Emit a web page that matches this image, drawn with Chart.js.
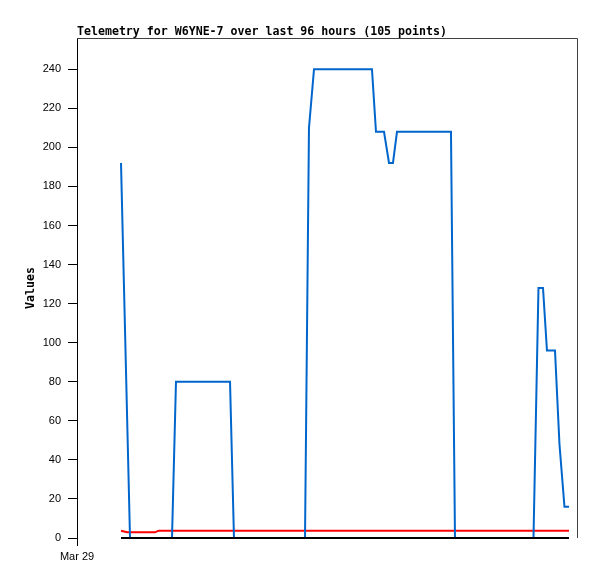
<!DOCTYPE html>
<html lang="en">
<head>
  <meta charset="UTF-8" />
  <title>Telemetry for W6YNE-7</title>
  <script src="https://cdn.jsdelivr.net/npm/chart.js"></script>
  <style>
    body { margin: 0; background: #fff; }
    canvas { display: block; }
  </style>
</head>
<body>
  <canvas id="telemetry" width="597" height="579"></canvas>

  <script>
    // hours since Mar 29 00:00
    const blueHours = [9.43, 11.36, 20.36, 21.21, 32.79, 33.64, 48.86, 49.71, 50.79, 63.21, 64.07, 65.79,
      66.86, 67.71, 68.57, 80.14, 81.00, 97.82, 98.89, 99.86, 100.71, 102.43, 103.39, 104.46, 105.43];
    const blueValues = [192, 0, 0, 80, 80, 0, 0, 210, 240, 240, 208, 208,
      192, 192, 208, 208, 0, 0, 128, 128, 96, 96, 48, 16, 16];

    const redHours = [9.43, 10.07, 10.71, 16.71, 17.14, 17.57, 105.43];
    const redValues = [3.7, 3.3, 2.9, 2.9, 3.4, 3.7, 3.7];

    const blackHours = [9.43, 105.43];
    const blackValues = [0, 0];

    const xTickLabels = ["Mar 29"];
    const titleText = "Telemetry for W6YNE-7 over last 96 hours (105 points)";

    function toPoints(xs, ys) {
      return xs.map((x, i) => ({ x: x, y: ys[i] }));
    }

    const monoBold = 'bold 11.6px "DejaVu Sans Mono", monospace';

    // title and the top/right frame lines
    const framePlugin = {
      id: "frame",
      afterDraw(chart) {
        const { ctx, chartArea } = chart;
        ctx.save();
        ctx.strokeStyle = "#404040";
        ctx.lineWidth = 1;
        ctx.beginPath();
        ctx.moveTo(chartArea.left, chartArea.top + 0.5);
        ctx.lineTo(chartArea.right - 0.5, chartArea.top + 0.5);
        ctx.lineTo(chartArea.right - 0.5, chartArea.bottom);
        ctx.stroke();
        ctx.fillStyle = "#000";
        ctx.font = monoBold;
        ctx.textBaseline = "alphabetic";
        ctx.textAlign = "left";
        ctx.fillText(titleText, chartArea.left, 35);
        ctx.restore();
      }
    };

    new Chart(document.getElementById("telemetry"), {
      type: "line",
      data: {
        datasets: [
          {
            data: toPoints(blueHours, blueValues),
            borderColor: "#0066cc",
            borderWidth: 2,
            clip: false,
            order: 1
          },
          {
            data: toPoints(redHours, redValues),
            borderColor: "#ff0000",
            borderWidth: 2,
            clip: false,
            order: 2
          },
          {
            data: toPoints(blackHours, blackValues),
            borderColor: "#000000",
            borderWidth: 2,
            clip: false,
            order: 0
          }
        ]
      },
      options: {
        responsive: false,
        devicePixelRatio: 1,
        animation: false,
        layout: { padding: { top: 38, right: 19, left: 0, bottom: 0 } },
        elements: {
          point: { radius: 0 },
          line: { tension: 0, fill: false }
        },
        plugins: {
          legend: { display: false },
          tooltip: { enabled: false }
        },
        scales: {
          x: {
            type: "linear",
            min: 0,
            max: 107.36,
            afterBuildTicks: scale => { scale.ticks = [{ value: 0 }]; },
            afterFit: scale => { scale.height = 41; },
            border: { display: false },
            grid: { drawOnChartArea: false, tickLength: 8, tickColor: "#000" },
            ticks: {
              padding: 4,
              maxRotation: 0,
              color: "#000",
              font: { family: '"Liberation Sans", Arial, sans-serif', size: 11 },
              callback: (v, i) => xTickLabels[i]
            }
          },
          y: {
            min: 0,
            max: 256,
            afterFit: scale => { scale.width = 77; },
            border: { display: true, color: "#000", width: 1 },
            grid: { drawOnChartArea: false, tickLength: 9, tickColor: "#000" },
            ticks: {
              stepSize: 20,
              includeBounds: false,
              padding: 7,
              color: "#000",
              font: { family: '"Liberation Sans", Arial, sans-serif', size: 11 }
            },
            title: {
              display: true,
              text: "Values",
              color: "#000",
              font: { family: '"DejaVu Sans Mono", monospace', size: 11.6, weight: "bold" },
              padding: { top: 24, bottom: 0 }
            }
          }
        }
      },
      plugins: [framePlugin]
    });
  </script>
</body>
</html>
